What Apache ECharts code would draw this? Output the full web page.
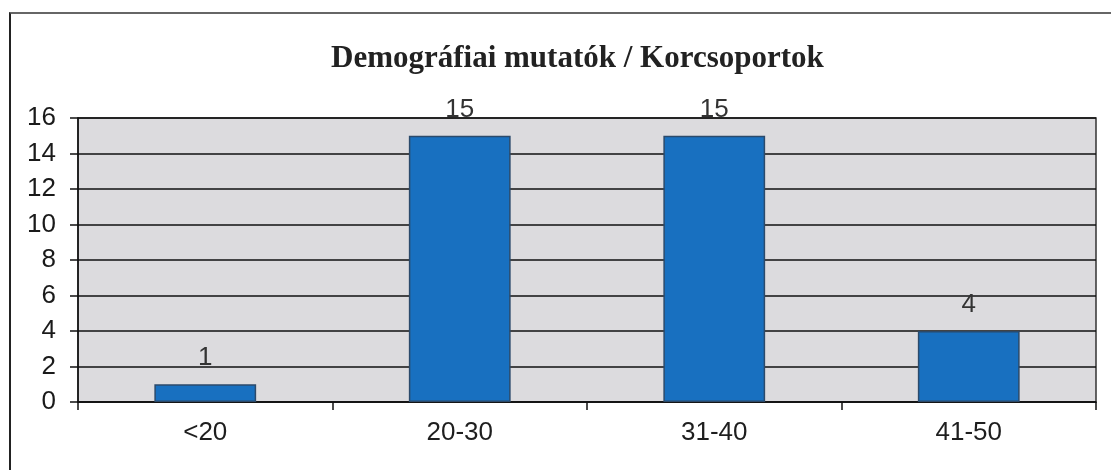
<!DOCTYPE html>
<html>
<head>
<meta charset="utf-8">
<script src="https://cdn.jsdelivr.net/npm/echarts@6/dist/echarts.min.js"></script>
<style>
  html, body { margin: 0; padding: 0; background: #fff; }
  .wrap { position: relative; width: 1111px; height: 470px; }
  .frame {
    position: absolute; left: 9px; top: 12px; right: 0; bottom: 0;
    border-left: 2px solid #222; border-top: 2px solid #666;
  }
  #chart { position: absolute; left: 0; top: 0; width: 1111px; height: 470px; }
</style>
</head>
<body>
<div class="wrap">
  <div class="frame"></div>
  <div id="chart"></div>
</div>
<script>
// korcsoportok es letszam
const categories = ['<20', '20-30', '31-40', '41-50'];
const counts = [1, 15, 15, 4];
const yTicks = { min: 0, max: 16, step: 2 };

let myChart = echarts.init(document.getElementById('chart'));
myChart.setOption({
  title: {
    text: 'Demográfiai mutatók / Korcsoportok',
    left: 326,
    top: 38,
    textStyle: {
      fontFamily: 'Liberation Serif',
      fontWeight: 'bold',
      fontSize: 31,
      color: '#222'
    }
  },
  grid: {
    left: 78,
    right: 15,
    top: 118,
    bottom: 68,
    show: true,
    backgroundColor: '#dcdbde',
    borderColor: '#333',
    borderWidth: 1.5
  },
  xAxis: {
    type: 'category',
    data: categories,
    axisLine: { lineStyle: { color: '#111', width: 1.5 } },
    axisTick: { show: true, length: 8, lineStyle: { color: '#111', width: 1.5 } },
    axisLabel: {
      margin: 18,
      fontFamily: 'Liberation Sans',
      fontSize: 26,
      color: '#1e1e1e'
    }
  },
  yAxis: {
    type: 'value',
    min: yTicks.min,
    max: yTicks.max,
    interval: yTicks.step,
    axisLine: { show: true, lineStyle: { color: '#111', width: 1.5 } },
    axisTick: { show: true, length: 8, lineStyle: { color: '#111', width: 1.5 } },
    axisLabel: {
      margin: 22,
      fontFamily: 'Liberation Sans',
      fontSize: 26,
      color: '#1a1a1a'
    },
    splitLine: { lineStyle: { color: '#111', width: 1.5 } }
  },
  series: [
    {
      type: 'bar',
      data: counts,
      barWidth: '40%',
      itemStyle: {
        color: '#1870c0',
        borderColor: '#2b4a6b',
        borderWidth: 1.5
      },
      label: {
        show: true,
        position: 'top',
        distance: 13,
        fontFamily: 'Liberation Sans',
        fontSize: 26,
        color: '#333'
      }
    }
  ],
  animation: false
});
</script>
</body>
</html>
